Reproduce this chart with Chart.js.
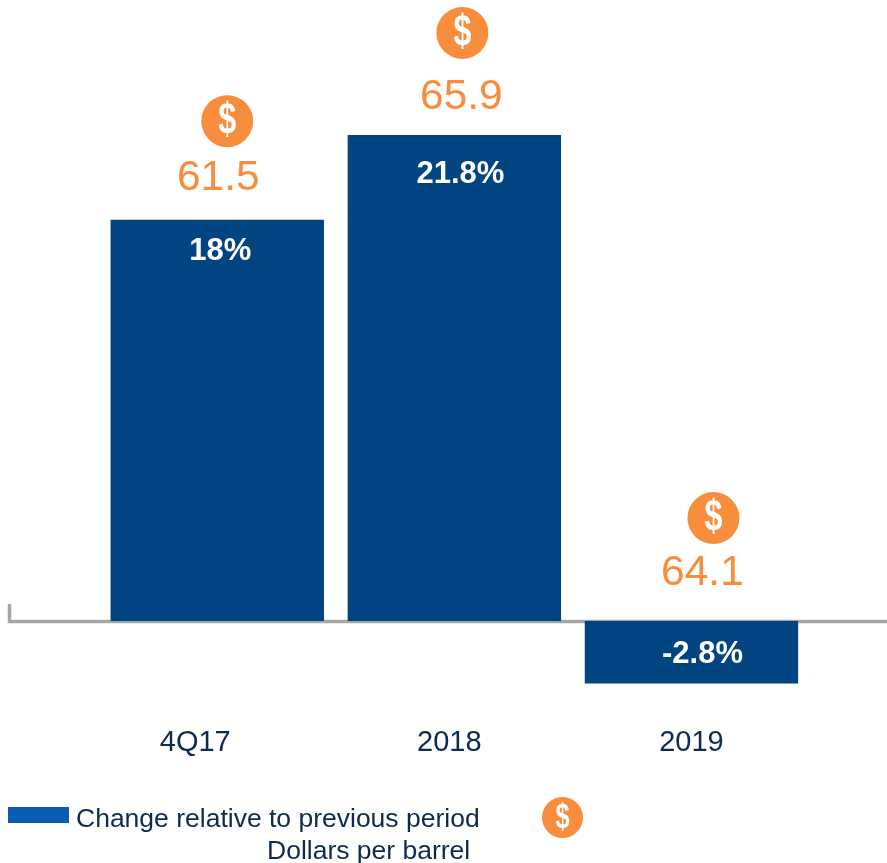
<!DOCTYPE html>
<html>
<head>
<meta charset="utf-8">
<style>html,body{margin:0;padding:0;background:#fff}#w{position:relative;width:887px;height:863px}canvas{display:block}</style>
<script src="https://cdn.jsdelivr.net/npm/chart.js@4"></script>
</head>
<body>
<div id="w"><canvas id="c" width="887" height="863"></canvas></div>
<script>
const categories = ["4Q17", "2018", "2019"];
const changePct = [18, 21.8, -2.8];
const changeLabels = ["18%", "21.8%", "-2.8%"];
const dollars = ["61.5", "65.9", "64.1"];
const legendBar = "Change relative to previous period";
const legendIcon = "Dollars per barrel";

const BLUE = "#004481", ORANGE = "#F98D3E", GREY = "#A6A6A6", NAVY = "#0F2A50";
const FONT = '"Liberation Sans", Arial, sans-serif';

function coin(ctx, x, y, r) {
  ctx.save();
  ctx.fillStyle = ORANGE;
  ctx.beginPath(); ctx.arc(x, y, r, 0, Math.PI * 2); ctx.fill();
  ctx.fillStyle = "#fff";
  ctx.font = "bold " + (r * 1.72) + "px " + FONT;
  ctx.textAlign = "center"; ctx.textBaseline = "middle";
  ctx.translate(x, y);
  ctx.scale(0.72, 1);
  ctx.fillText("$", 0, r * 0.03);
  ctx.restore();
}

const decor = {
  id: "decor",
  beforeDatasetsDraw(chart) {
    const { ctx } = chart;
    const zero = chart.scales.y.getPixelForValue(0);
    ctx.save();
    ctx.strokeStyle = GREY; ctx.lineWidth = 3.5; ctx.lineCap = "butt";
    ctx.beginPath();
    ctx.moveTo(9.5, 604); ctx.lineTo(9.5, zero + 0.5); ctx.lineTo(887, zero + 0.5);
    ctx.stroke();
    ctx.restore();
  },
  afterDatasetsDraw(chart) {
    const { ctx } = chart;
    const bars = chart.getDatasetMeta(0).data;
    const zero = chart.scales.y.getPixelForValue(0);
    const labelDx = [-22, -5, 0];
    const valueDx = [1, 7, 11];
    const coinDx = [10, 8, 22];
    ctx.save();
    ctx.textAlign = "center";
    ctx.textBaseline = "alphabetic";
    bars.forEach((bar, i) => {
      const top = Math.min(bar.y, bar.base);
      ctx.fillStyle = "#fff";
      ctx.font = "bold 31px " + FONT;
      ctx.fillText(changeLabels[i], bar.x + [3, 6, 11][i], top + [40, 48, 42][i]);
      const anchor = changePct[i] < 0 ? zero : top;
      ctx.fillStyle = ORANGE;
      ctx.font = "42.5px " + FONT;
      ctx.fillText(dollars[i], bar.x + valueDx[i], anchor + [-30, -26, -36][i]);
      coin(ctx, bar.x + coinDx[i], anchor + [-98.5, -102, -103][i], 26);
      ctx.fillStyle = NAVY;
      ctx.font = "29px " + FONT;
      ctx.fillText(categories[i], bar.x + labelDx[i], 751);
    });
    ctx.fillStyle = "#0A5DB3";
    ctx.fillRect(8, 807, 61, 16);
    ctx.fillStyle = NAVY;
    ctx.font = "26.5px " + FONT;
    ctx.textAlign = "left";
    ctx.fillText(legendBar, 76, 827);
    ctx.fillText(legendIcon, 267, 859);
    ctx.restore();
    coin(ctx, 562.5, 817.5, 20.5);
  }
};

new Chart(document.getElementById("c"), {
  type: "bar",
  data: {
    labels: categories,
    datasets: [{ label: legendBar, data: changePct, backgroundColor: BLUE, borderWidth: 0,
      barPercentage: 0.9, categoryPercentage: 1 }]
  },
  options: {
    responsive: false,
    animation: false,
    layout: { padding: { left: 98.7, right: 77, top: 0, bottom: 0 } },
    plugins: { legend: { display: false }, tooltip: { enabled: false }, title: { display: false } },
    scales: {
      x: { display: false },
      y: { display: false, min: -10.85, max: 27.85 }
    }
  },
  plugins: [decor]
});
</script>
</body>
</html>
